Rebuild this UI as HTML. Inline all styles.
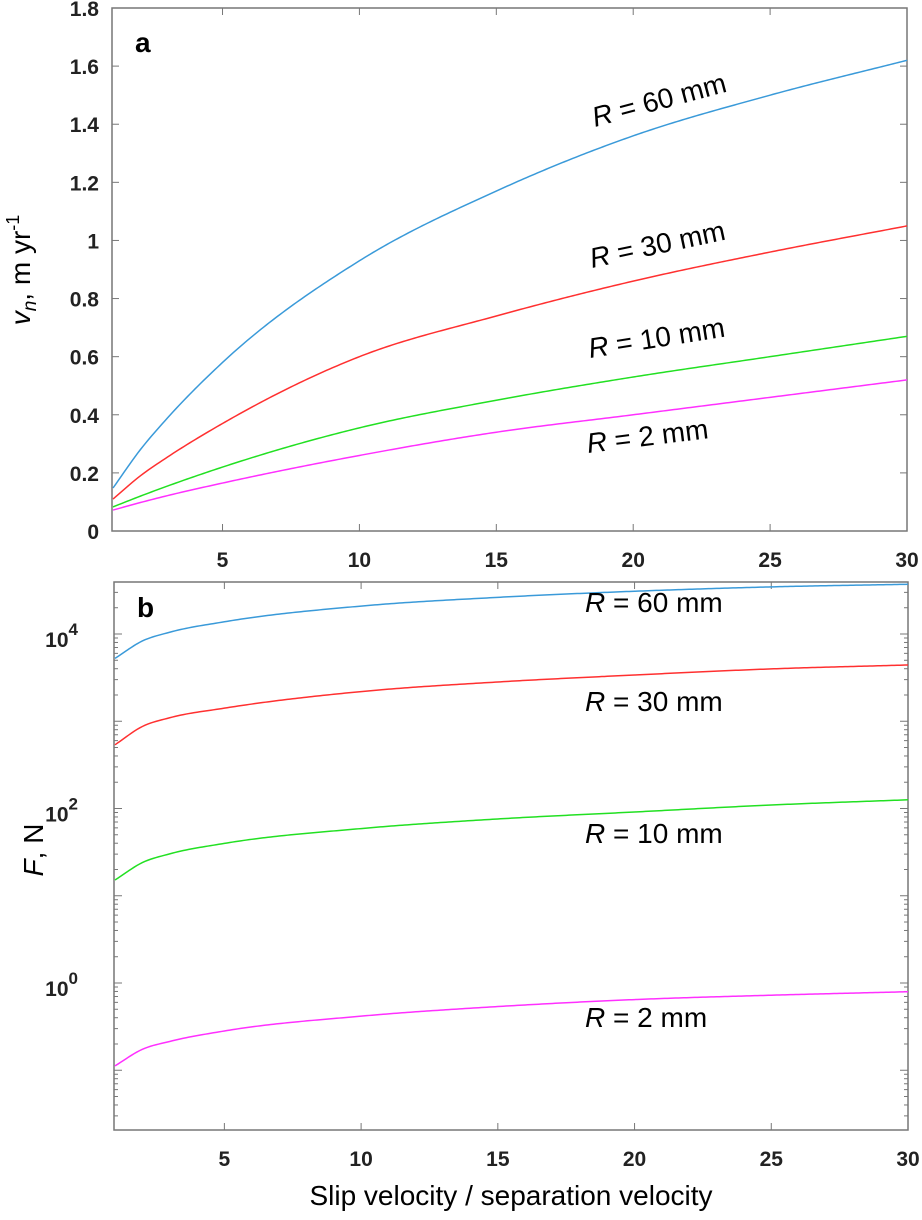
<!DOCTYPE html>
<html><head><meta charset="utf-8"><style>
html,body{margin:0;padding:0;background:#fff;width:922px;height:1220px;overflow:hidden}
svg{display:block}
.tk{font-family:"Liberation Sans",Arial,sans-serif;font-weight:bold;font-size:21px;fill:#222}
.lab{font-family:"Liberation Sans",sans-serif;font-size:28px;fill:#000}
</style></head><body>
<svg id="chart" width="922" height="1220"></svg>
<script>
const xVals=[1,2,3,5,10,15,20,25,30];
const aBlue=[0.148,0.28,0.39,0.58,0.93,1.17,1.36,1.50,1.62];
const aRed=[0.11,0.19,0.255,0.37,0.60,0.74,0.86,0.96,1.05];
const aGreen=[0.083,0.12,0.155,0.22,0.355,0.45,0.53,0.60,0.67];
const aMag=[0.072,0.098,0.122,0.165,0.26,0.34,0.40,0.46,0.52];
const bBlue=[3.72,3.92,4.02,4.14,4.32,4.42,4.49,4.54,4.57];
const bRed=[2.73,2.94,3.04,3.15,3.34,3.45,3.53,3.60,3.645];
const bGreen=[1.18,1.38,1.48,1.60,1.77,1.88,1.96,2.04,2.10];
const bMag=[-0.95,-0.76,-0.67,-0.55,-0.38,-0.27,-0.19,-0.14,-0.10];
const xTicks=[5,10,15,20,25,30];
const aTicks=[0,0.2,0.4,0.6,0.8,1,1.2,1.4,1.6,1.8];
const bDecades=[0,2,4];
const NS="http://www.w3.org/2000/svg";
const svg=document.getElementById('chart');
function mk(t,a,p){const e=document.createElementNS(NS,t);for(const k in a)e.setAttribute(k,a[k]);(p||svg).appendChild(e);return e;}
const ax={l:112,r:907,t:8,b:531};
const bx={l:114,r:908,t:582,b:1130};
const xA=v=>113+(v-1)*(794/29);
const xB=v=>115+(v-1)*(793/29);
const yA=v=>ax.b-v/1.8*(ax.b-ax.t);
const yB=lv=>983-lv*87.25;
function mono(xs,ys){const n=xs.length,d=[],m=new Array(n);for(let i=0;i<n-1;i++)d.push((ys[i+1]-ys[i])/(xs[i+1]-xs[i]));
m[0]=d[0];m[n-1]=d[n-2];for(let i=1;i<n-1;i++){const h0=xs[i]-xs[i-1],h1=xs[i+1]-xs[i];m[i]=d[i-1]*d[i]<=0?0:(h0*d[i]+h1*d[i-1])/(h0+h1);}
for(let i=0;i<n-1;i++){if(d[i]===0){m[i]=m[i+1]=0;continue;}const a=m[i]/d[i],b=m[i+1]/d[i],s=a*a+b*b;if(s>9){const t=3/Math.sqrt(s);m[i]=t*a*d[i];m[i+1]=t*b*d[i];}}
return x=>{let i=0;while(i<n-2&&x>xs[i+1])i++;const h=xs[i+1]-xs[i],t=(x-xs[i])/h,t2=t*t,t3=t2*t;
return (2*t3-3*t2+1)*ys[i]+(t3-2*t2+t)*h*m[i]+(-2*t3+3*t2)*ys[i+1]+(t3-t2)*h*m[i+1];};}
function pathFor(s,fx,fy){const f=mono(xVals,s);let d='';for(let k=0;k<=290;k++){const x=1+k*0.1;d+=(k?'L':'M')+fx(x).toFixed(2)+','+fy(f(x)).toFixed(2);}return d;}
// Panel a
let g=mk('g',{});


let fr=mk('rect',{x:ax.l,y:ax.t,width:ax.r-ax.l,height:ax.b-ax.t,fill:'none',stroke:'#777','stroke-width':1.5},g);


aTicks.forEach(v=>{const y=yA(v);mk('line',{x1:ax.l,x2:ax.l+7,y1:y,y2:y,stroke:'#777'},g);mk('line',{x1:ax.r,x2:ax.r-7,y1:y,y2:y,stroke:'#777'},g);
const t=mk('text',{x:ax.l-13,y:y+8,'text-anchor':'end',class:'tk'},g);t.textContent=String(v);

});
xTicks.forEach(v=>{const x=xA(v);mk('line',{x1:x,x2:x,y1:ax.b,y2:ax.b-7,stroke:'#777'},g);mk('line',{x1:x,x2:x,y1:ax.t,y2:ax.t+7,stroke:'#777'},g);
const t=mk('text',{x:x,y:ax.b+36,'text-anchor':'middle',class:'tk'},g);t.textContent=String(v);

});
[[aBlue,'#3a9ad9','line-a-60mm'],[aRed,'#ff3030','line-a-30mm'],[aGreen,'#22e022','line-a-10mm'],[aMag,'#ff30ff','line-a-2mm']].forEach(([s,c,n])=>{
const p=mk('path',{d:pathFor(s,xA,yA),fill:'none',stroke:c,'stroke-width':1.5},g);

});
let pa=mk('text',{x:135,y:52,style:'font-family:Liberation Sans;font-weight:bold;font-size:28px'},g);pa.textContent='a';


[['60',595,127,-15],['30',592,268,-12],['10',590,358,-9],['2',588,453,-7]].forEach(([r,x,y,a])=>{
const t=mk('text',{x:x,y:y,class:'lab',transform:`rotate(${a} ${x} ${y})`},g);t.innerHTML='<tspan font-style="italic">R</tspan> = '+r+' mm';

});
let ya=mk('text',{x:30,y:270,class:'lab',transform:'rotate(-90 30 270)','text-anchor':'middle'},g);
ya.innerHTML='<tspan font-style="italic">v</tspan><tspan font-style="italic" font-size="19" dy="6">n</tspan><tspan dy="-6">, m yr</tspan><tspan font-size="18" dy="-11">-1</tspan>';


// Panel b
g=mk('g',{});


fr=mk('rect',{x:bx.l,y:bx.t,width:bx.r-bx.l,height:bx.b-bx.t,fill:'none',stroke:'#777','stroke-width':1.5},g);


for(let d=-2;d<=4;d++){for(let m=1;m<=9;m++){const lv=d+Math.log10(m);const y=yB(lv);if(y<bx.t||y>bx.b)continue;const L=m===1?8:4;
mk('line',{x1:bx.l,x2:bx.l+L,y1:y,y2:y,stroke:'#777'},g);mk('line',{x1:bx.r,x2:bx.r-L,y1:y,y2:y,stroke:'#777'},g);}}
bDecades.forEach(d=>{const y=yB(d);const t=mk('text',{x:bx.l-36,y:y+13,'text-anchor':'end',class:'tk','font-size':23},g);t.textContent='10';
const s=mk('tspan',{dy:-12,'font-size':17},t);s.textContent=String(d);

});
xTicks.forEach(v=>{const x=xB(v);mk('line',{x1:x,x2:x,y1:bx.b,y2:bx.b-7,stroke:'#777'},g);mk('line',{x1:x,x2:x,y1:bx.t,y2:bx.t+7,stroke:'#777'},g);
const t=mk('text',{x:x,y:bx.b+36,'text-anchor':'middle',class:'tk'},g);t.textContent=String(v);

});
[[bBlue,'#3a9ad9','line-b-60mm'],[bRed,'#ff3030','line-b-30mm'],[bGreen,'#22e022','line-b-10mm'],[bMag,'#ff30ff','line-b-2mm']].forEach(([s,c,n])=>{
const p=mk('path',{d:pathFor(s,xB,yB),fill:'none',stroke:c,'stroke-width':1.5},g);

});
let pb=mk('text',{x:137,y:617,style:'font-family:Liberation Sans;font-weight:bold;font-size:28px'},g);pb.textContent='b';


[['60',585,612],['30',585,711],['10',585,843],['2',585,1027]].forEach(([r,x,y])=>{
const t=mk('text',{x:x,y:y,class:'lab'},g);t.innerHTML='<tspan font-style="italic">R</tspan> = '+r+' mm';

});
let yb=mk('text',{x:43,y:850,class:'lab',transform:'rotate(-90 43 850)','text-anchor':'middle'},g);
yb.innerHTML='<tspan font-style="italic">F</tspan>, N';


let xt=mk('text',{x:511,y:1205,class:'lab','text-anchor':'middle'});xt.textContent='Slip velocity / separation velocity';


</script>
</body></html>
